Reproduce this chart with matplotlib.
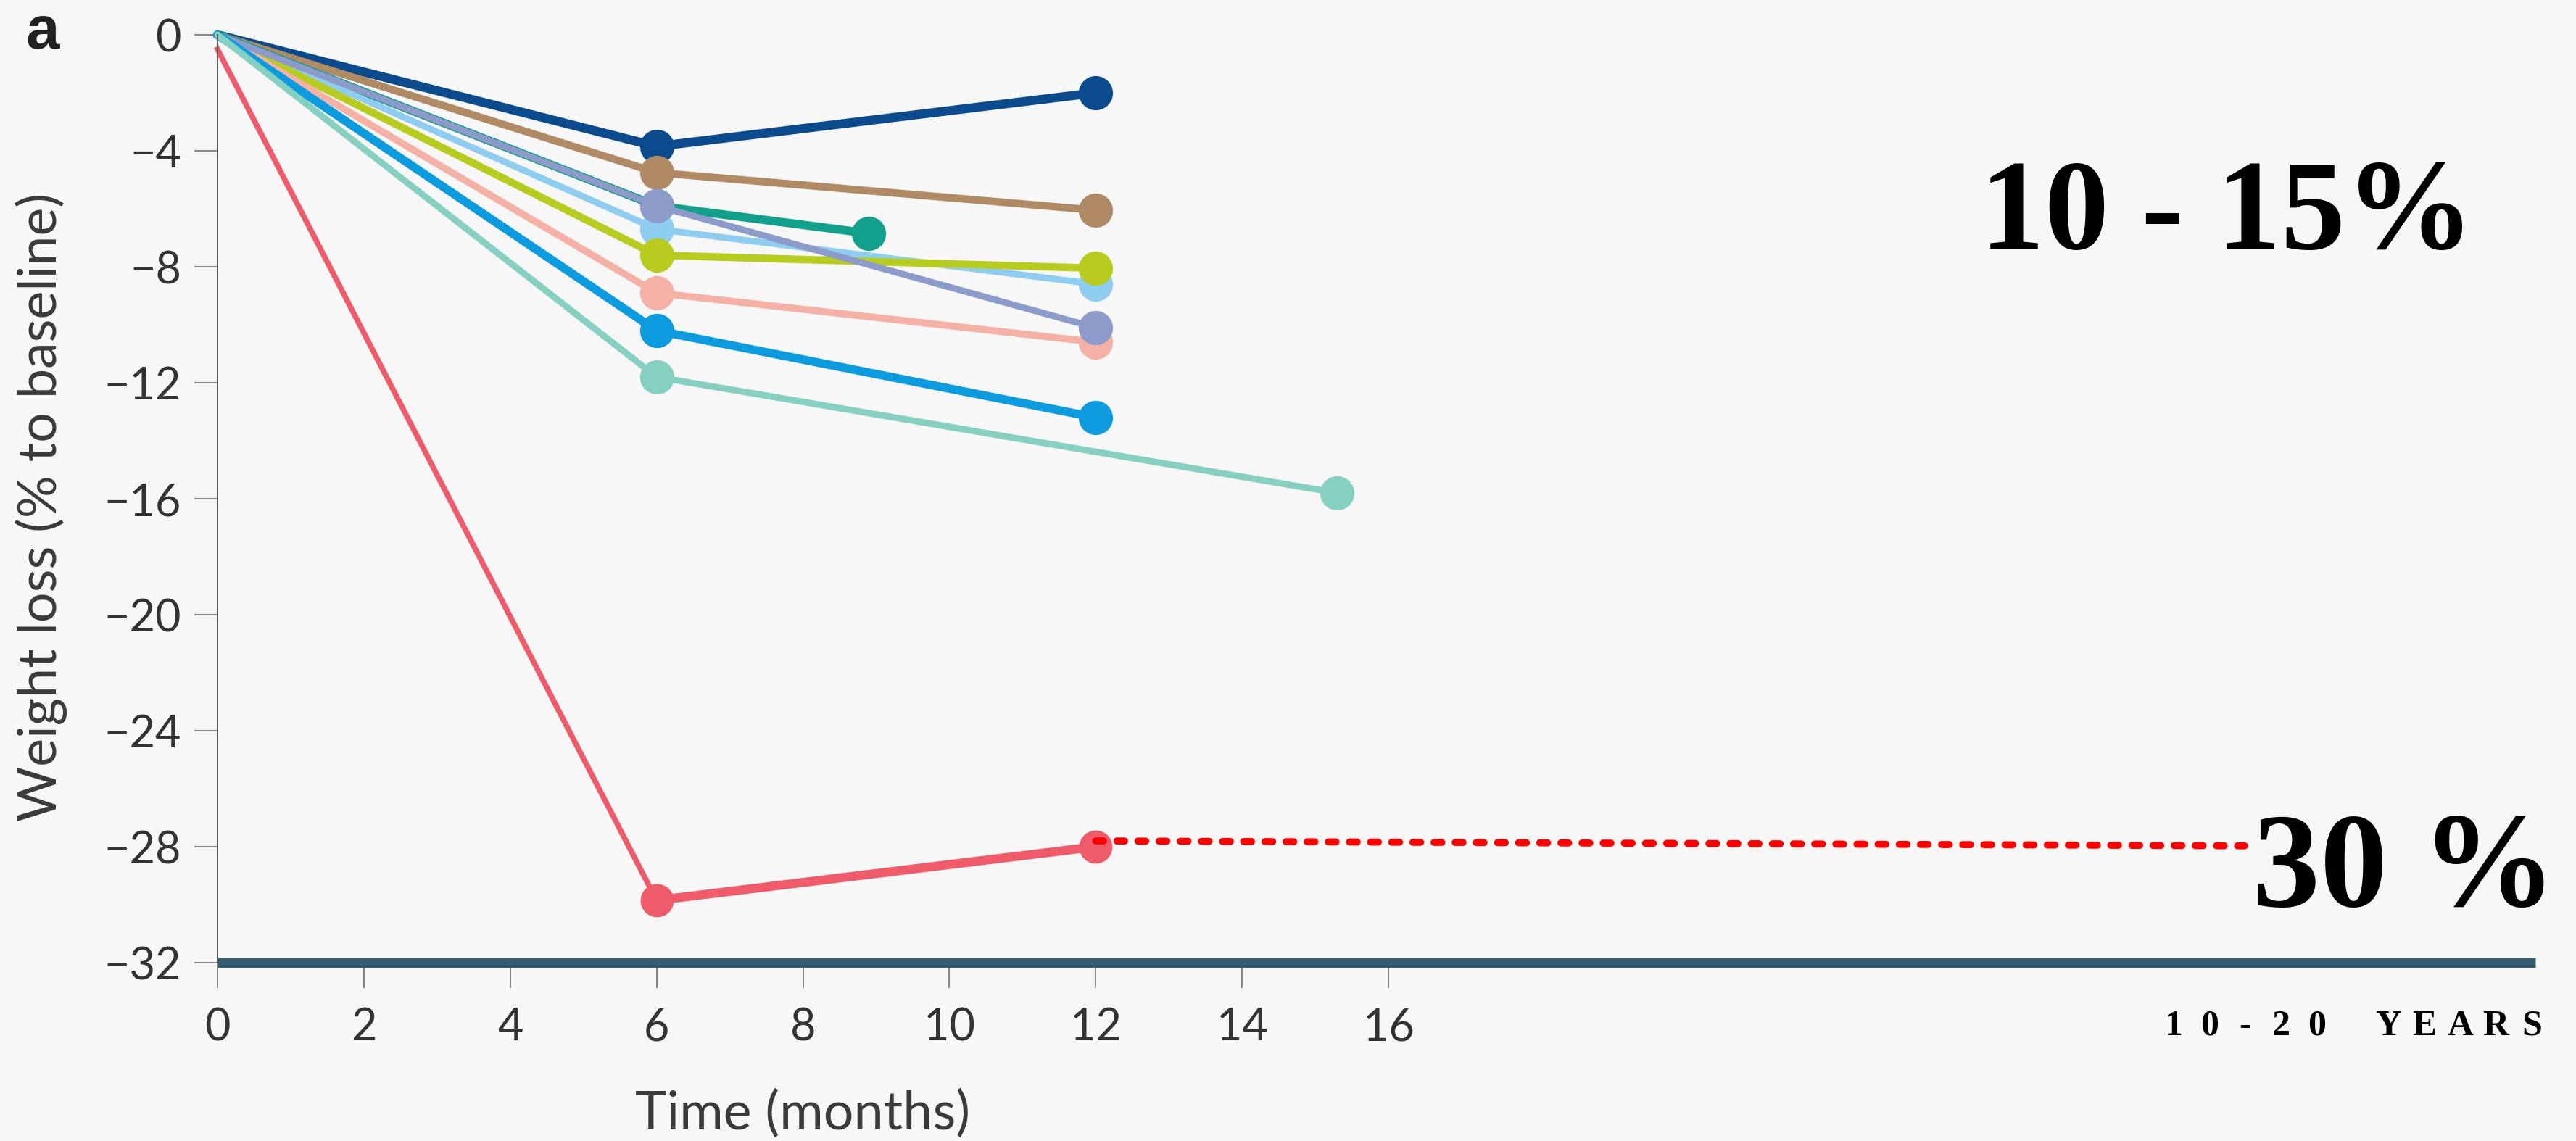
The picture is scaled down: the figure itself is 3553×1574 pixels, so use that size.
import matplotlib
matplotlib.use("Agg")
import matplotlib.pyplot as plt
from matplotlib import font_manager

# canvas size in pixels
W, H, DPI = 3553, 1574, 100
BG = "#f7f7f7"

# x values (months) and weight loss (% to baseline) per trial
months_std = [0, 6, 12]
navy_y = [0, -3.85, -2.0]
brown_y = [0, -4.75, -6.05]
teal_x = [0, 6, 8.9]
teal_y = [0, -5.9, -6.85]
lightblue_y = [0, -6.7, -8.6]
yellowgreen_y = [0, -7.6, -8.05]
pink_y = [0, -8.9, -10.6]
lavender_y = [0, -5.9, -10.1]
blue_y = [0, -10.2, -13.2]
mint_x = [0, 6, 15.3]
mint_y = [0, -11.8, -15.8]
red_y = [-0.5, -29.85, -28.0]

# long-term projection of the red series
proj_x = [12, 27.7]
proj_y = [-27.8, -27.97]

x_ticks = list(range(0, 17, 2))
y_ticks = list(range(0, -33, -4))

names = {f.name for f in font_manager.fontManager.ttflist}
sans = ["Lato", "DejaVu Sans"] if "Lato" in names else ["DejaVu Sans"]
serif = ["Liberation Serif", "DejaVu Serif"]
plt.rcParams["font.family"] = sans


def fx(px):
    return px / W


def fy(py):
    return 1 - py / H


series = [
    (months_std, navy_y, "#0b4a8c", 9.0),
    (months_std, brown_y, "#b08a64", 7.5),
    (teal_x, teal_y, "#10a08b", 8.5),
    (months_std, lightblue_y, "#8fcdf0", 6.5),
    (months_std, yellowgreen_y, "#b7cc1e", 7.5),
    (months_std, pink_y, "#f6b1a7", 7.0),
    (months_std, lavender_y, "#8c9bc9", 6.5),
    (months_std, blue_y, "#0c9bdf", 8.5),
    (mint_x, mint_y, "#86d0c1", 6.5),
]

fig = plt.figure(figsize=(W / DPI, H / DPI), dpi=DPI, facecolor=BG)
ax = fig.add_axes([fx(300), fy(1328), (3497 - 300) / W, (1328 - 48) / H])
ax.set_facecolor(BG)

px_per_month = 100.94
x_end = (3497 - 300) / px_per_month
ax.set_xlim(0, x_end)
ax.set_ylim(-32, 0)

# no marker at baseline (t = 0)
for xs, ys, col, lw in series:
    ax.plot(xs, ys, color=col, lw=lw, marker="o", ms=34, mew=0,
            markevery=[1, 2], solid_capstyle="round", clip_on=False)

# red series: thinner first leg, heavier second leg
red = "#ef5b6b"
ax.plot(months_std[:2], red_y[:2], color=red, lw=5.5, clip_on=False)
ax.plot(months_std[1:], red_y[1:], color=red, lw=9.0, marker="o", ms=33,
        mew=0, clip_on=False)

ax.plot(proj_x, proj_y, color="#ff0000", lw=7, dashes=(1.1, 1.9),
        dash_capstyle="round", clip_on=False)

ax.set_xticks(x_ticks)
ax.set_yticks(y_ticks)
ax.tick_params(axis="x", length=25, width=1.1, color="#666666", pad=19,
               labelsize=44, labelcolor="#333333")
ax.tick_params(axis="y", length=23, width=1.1, color="#666666", pad=13,
               labelsize=44, labelcolor="#333333")

for side in ("top", "right"):
    ax.spines[side].set_visible(False)
ax.spines["left"].set_color("#555555")
ax.spines["left"].set_linewidth(1.4)
ax.spines["bottom"].set_color("#375b6e")
ax.spines["bottom"].set_linewidth(9.4)
ax.spines["bottom"].set_capstyle("butt")

fig.text(fx(78), fy(699), "Weight loss (% to baseline)", rotation=90,
         rotation_mode="anchor", ha="center", va="baseline",
         fontsize=53, color="#3a3a3a")
fig.text(fx(1107), fy(1558), "Time (months)", ha="center", va="baseline",
         fontsize=53, color="#3a3a3a")
fig.text(fx(36), fy(67), "a", ha="left", va="baseline", fontsize=60,
         fontweight="bold", color="#222222",
         family=["Liberation Sans", "DejaVu Sans"])

fig.text(fx(3072), fy(343), "10 - 15%", ha="center", va="baseline",
         fontsize=128, fontweight="bold", color="black", family=serif)
fig.text(fx(3316), fy(1250), "30 %", ha="center", va="baseline",
         fontsize=134, fontweight="bold", color="black", family=serif)

years = "10-20 YEARS"
for i, ch in enumerate(years):
    fig.text(fx(2998 + i * 49.4), fy(1428), ch, ha="center", va="baseline",
             fontsize=36, fontweight="bold", color="black", family=serif)

fig.savefig("out.png", dpi=DPI, facecolor=BG)
